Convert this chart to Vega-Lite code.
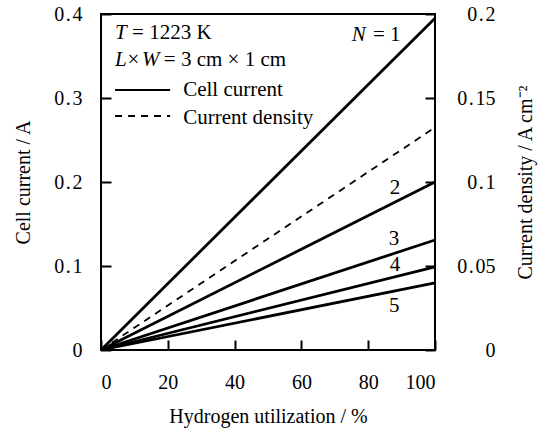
{
  "$schema": "https://vega.github.io/schema/vega-lite/v6.json",
  "width": 334,
  "height": 336,
  "autosize": "none",
  "padding": {"left": 101, "top": 14, "right": 107, "bottom": 83},
  "background": "white",
  "config": {
    "view": {"stroke": "black", "strokeWidth": 2},
    "axis": {
      "domain": false, "grid": false, "tickColor": "black", "tickWidth": 2, "tickSize": -10,
      "labelFont": "Liberation Serif", "labelFontSize": 20, "labelColor": "black",
      "titleFont": "Liberation Serif", "titleFontSize": 20, "titleFontWeight": "normal", "titleColor": "black"
    },
    "text": {"font": "Liberation Serif", "fontSize": 21, "color": "black"}
  },
  "resolve": {"scale": {"y": "independent"}},
  "layer": [
    {
      "data": {"values": [
        {"series": "N1", "u": 0, "i": 0}, {"series": "N1", "u": 100, "i": 0.395},
        {"series": "N2", "u": 0, "i": 0}, {"series": "N2", "u": 100, "i": 0.2},
        {"series": "N3", "u": 0, "i": 0}, {"series": "N3", "u": 100, "i": 0.131},
        {"series": "N4", "u": 0, "i": 0}, {"series": "N4", "u": 100, "i": 0.099},
        {"series": "N5", "u": 0, "i": 0}, {"series": "N5", "u": 100, "i": 0.08}
      ]},
      "mark": {"type": "line", "color": "black", "strokeWidth": 2.8},
      "encoding": {
        "x": {"field": "u", "type": "quantitative", "scale": {"domain": [0, 100], "nice": false},
          "axis": {"values": [0, 20, 40, 60, 80, 100], "labelPadding": 32, "title": "Hydrogen utilization / %", "titlePadding": 14}},
        "y": {"field": "i", "type": "quantitative", "scale": {"domain": [0, 0.4], "nice": false},
          "axis": {"orient": "left", "values": [0, 0.1, 0.2, 0.3, 0.4], "labelPadding": 29,
            "labelExpr": "replace(format(datum.value, '~g'), '.', '\u200a.\u200a')",
            "title": "Cell current / A", "titlePadding": 20}},
        "detail": {"field": "series"}
      }
    },
    {
      "data": {"values": [
        {"u": 0, "d": 0}, {"u": 100, "d": 0.1325}
      ]},
      "mark": {"type": "line", "color": "black", "strokeWidth": 1.8, "strokeDash": [7, 6]},
      "encoding": {
        "x": {"field": "u", "type": "quantitative", "scale": {"domain": [0, 100], "nice": false}},
        "y": {"field": "d", "type": "quantitative", "scale": {"domain": [0, 0.2], "nice": false},
          "axis": {"orient": "right", "values": [0, 0.05, 0.1, 0.15, 0.2], "labelPadding": 70, "labelAlign": "right",
            "labelExpr": "replace(format(datum.value, '~g'), '.', '\u200a.\u200a')",
            "title": "Current density / A cm⁻²", "titleAngle": 270, "titlePadding": 40}}
      }
    },
    {
      "data": {"values": [
        {"x1": 4.2, "x2": 20.7, "y": 0.3095}
      ]},
      "mark": {"type": "rule", "color": "black", "strokeWidth": 2},
      "encoding": {
        "x": {"field": "x1", "type": "quantitative", "scale": {"domain": [0, 100], "nice": false}},
        "x2": {"field": "x2"},
        "y": {"field": "y", "type": "quantitative", "scale": {"domain": [0, 0.4], "nice": false}, "axis": null}
      }
    },
    {
      "data": {"values": [
        {"x1": 4.2, "x2": 20.7, "y": 0.2786}
      ]},
      "mark": {"type": "rule", "color": "black", "strokeWidth": 1.8, "strokeDash": [7, 6]},
      "encoding": {
        "x": {"field": "x1", "type": "quantitative", "scale": {"domain": [0, 100], "nice": false}},
        "x2": {"field": "x2"},
        "y": {"field": "y", "type": "quantitative", "scale": {"domain": [0, 0.4], "nice": false}, "axis": null}
      }
    },
    {
      "data": {"values": [
        {"label": "T", "x": 4.2, "y": 0.370},
        {"label": "L", "x": 4.2, "y": 0.338},
        {"label": "W", "x": 12.3, "y": 0.338},
        {"label": "N", "x": 75.1, "y": 0.368}
      ]},
      "mark": {"type": "text", "align": "left", "baseline": "alphabetic", "fontStyle": "italic"},
      "encoding": {
        "x": {"field": "x", "type": "quantitative", "scale": {"domain": [0, 100], "nice": false}},
        "y": {"field": "y", "type": "quantitative", "scale": {"domain": [0, 0.4], "nice": false}, "axis": null},
        "text": {"field": "label"}
      }
    },
    {
      "data": {"values": [
        {"label": "= 1223 K", "x": 9.3, "y": 0.370},
        {"label": "×", "x": 7.9, "y": 0.338},
        {"label": "= 3 cm × 1 cm", "x": 18.8, "y": 0.338},
        {"label": "Cell current", "x": 24.6, "y": 0.302},
        {"label": "Current density", "x": 24.6, "y": 0.269},
        {"label": "= 1", "x": 81.4, "y": 0.368}
      ]},
      "mark": {"type": "text", "align": "left", "baseline": "alphabetic"},
      "encoding": {
        "x": {"field": "x", "type": "quantitative", "scale": {"domain": [0, 100], "nice": false}},
        "y": {"field": "y", "type": "quantitative", "scale": {"domain": [0, 0.4], "nice": false}, "axis": null},
        "text": {"field": "label"}
      }
    },
    {
      "data": {"values": [
        {"label": "2", "x": 88, "y": 0.186},
        {"label": "3", "x": 87.7, "y": 0.125},
        {"label": "4", "x": 88, "y": 0.094},
        {"label": "5", "x": 87.8, "y": 0.045}
      ]},
      "mark": {"type": "text", "align": "center", "baseline": "alphabetic"},
      "encoding": {
        "x": {"field": "x", "type": "quantitative", "scale": {"domain": [0, 100], "nice": false}},
        "y": {"field": "y", "type": "quantitative", "scale": {"domain": [0, 0.4], "nice": false}, "axis": null},
        "text": {"field": "label"}
      }
    }
  ]
}
